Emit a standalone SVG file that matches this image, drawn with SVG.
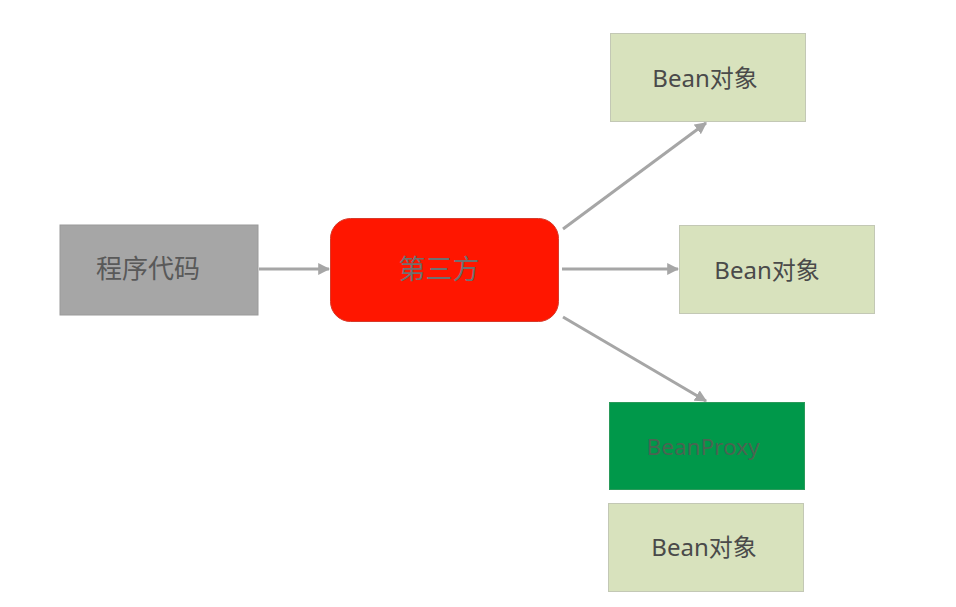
<svg xmlns="http://www.w3.org/2000/svg" width="956" height="607" viewBox="0 0 956 607">
<defs>
<style>
.t{font-family:"Noto Sans","Noto Sans CJK SC",sans-serif;text-anchor:middle;dominant-baseline:central}
.bean{fill:#d8e2bd;stroke:#c3c8b5;stroke-width:1}
.c{stroke:#a6a6a6;stroke-width:3;fill:none;marker-end:url(#ah)}
</style>
<marker id="ah" viewBox="0 0 10 10" refX="9" refY="5" markerWidth="4" markerHeight="4" orient="auto" markerUnits="strokeWidth">
<path d="M0,0 L10,5 L0,10 z" fill="#a6a6a6"/>
</marker>
</defs>
<rect width="956" height="607" fill="#ffffff"/>
<g id="connectors">
<line class="c" x1="259" y1="269" x2="329" y2="269"/>
<line class="c" x1="563" y1="229" x2="706" y2="123"/>
<line class="c" x1="562" y1="269" x2="678" y2="269"/>
<line class="c" x1="563" y1="317" x2="706" y2="401"/>
</g>
<g id="code">
<rect x="60" y="225" width="198" height="90" fill="#a6a6a6" stroke="#9a9a9a"/>
<text class="t" x="148" y="268" font-size="26" fill="#595959">程序代码</text>
</g>
<g id="third">
<rect x="330.5" y="218.5" width="228" height="103" rx="20" fill="#ff1600" stroke="#d83a2a"/>
<text class="t" x="439" y="268" font-size="27" fill="#707070">第三方</text>
</g>
<g id="bean1">
<rect class="bean" x="610.5" y="33.5" width="195" height="88"/>
<text class="t" x="705" y="77" font-size="24" fill="#4a4a4a">Bean对象</text>
</g>
<g id="bean2">
<rect class="bean" x="679.5" y="225.5" width="195" height="88"/>
<text class="t" x="767" y="269" font-size="24" fill="#4a4a4a">Bean对象</text>
</g>
<g id="proxy">
<rect x="609.5" y="402.5" width="195" height="87" fill="#00984a" stroke="#2a9a5a"/>
<text class="t" x="703" y="446" font-size="22.5" fill="#4a6452">BeanProxy</text>
</g>
<g id="bean3">
<rect class="bean" x="608.5" y="503.5" width="195" height="88"/>
<text class="t" x="704" y="546" font-size="24" fill="#4a4a4a">Bean对象</text>
</g>
</svg>
